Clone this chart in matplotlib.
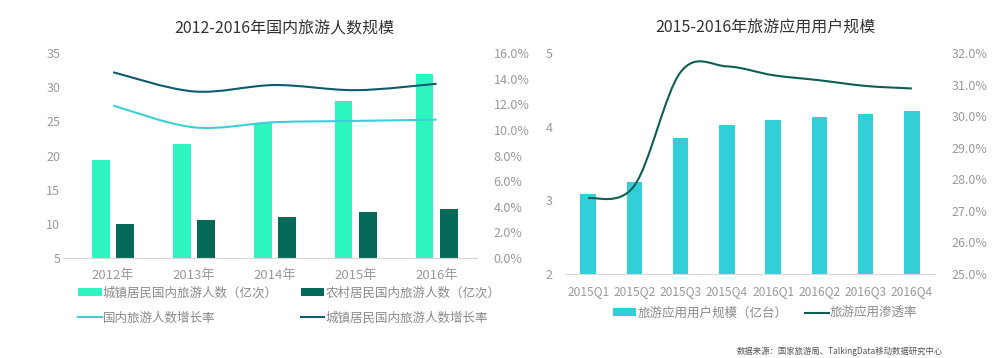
import matplotlib.pyplot as plt
import numpy as np
from matplotlib.path import Path
from matplotlib.patches import PathPatch
from matplotlib.ticker import FuncFormatter

plt.rcParams['font.family'] = ['Noto Sans CJK SC', 'DejaVu Sans']

# 左图数据
years = ["2012年", "2013年", "2014年", "2015年", "2016年"]
urban = [19.3, 21.7, 24.8, 28.0, 31.9]
rural = [10.0, 10.6, 11.0, 11.8, 12.2]
growth_all = [11.9, 10.2, 10.6, 10.7, 10.8]
growth_urban = [14.5, 13.0, 13.5, 13.1, 13.6]

# 右图数据
quarters = ["2015Q1", "2015Q2", "2015Q3", "2015Q4",
            "2016Q1", "2016Q2", "2016Q3", "2016Q4"]
users = [3.09, 3.25, 3.85, 4.03, 4.09, 4.13, 4.17, 4.21]
penetration = [27.4, 27.8, 31.4, 31.58, 31.3, 31.14, 30.96, 30.88]

c_urban = '#2ef5c0'
c_rural = '#05695a'
c_line_all = '#3ccfd8'
c_line_urban = '#0e5a6e'
c_users = '#33cfd9'
c_pen = '#0e5e55'
c_tick = '#9a9a9a'
c_text = '#333333'


def smooth_line(ax, xs, ys, color, lw=1.5):
    # 类似Excel平滑线的贝塞尔曲线
    pts = list(zip(xs, ys))
    n = len(pts)
    verts = [pts[0]]
    codes = [Path.MOVETO]
    for i in range(n - 1):
        p0 = np.array(pts[i - 1] if i > 0 else pts[i])
        p1 = np.array(pts[i])
        p2 = np.array(pts[i + 1])
        p3 = np.array(pts[i + 2] if i + 2 < n else pts[i + 1])
        c1 = p1 + (p2 - p0) / 6
        c2 = p2 - (p3 - p1) / 6
        verts += [tuple(c1), tuple(c2), tuple(p2)]
        codes += [Path.CURVE4] * 3
    ax.add_patch(PathPatch(Path(verts, codes), fill=False, edgecolor=color, lw=lw))


def style(ax):
    for s in ['top', 'left', 'right']:
        ax.spines[s].set_visible(False)
    ax.spines['bottom'].set_color('#d9d9d9')
    ax.tick_params(length=0, colors=c_tick, labelsize=9)


fig = plt.figure(figsize=(10, 3.58), dpi=100)

# ---- 左图 ----
ax1 = fig.add_axes([0.063, 0.2793, 0.414, 0.5726])
x = np.arange(len(years))
w = 0.22
b1 = ax1.bar(x - 0.15, urban, w, color=c_urban)
b2 = ax1.bar(x + 0.15, rural, w, color=c_rural)
ax1.set_ylim(5, 35)
ax1.set_yticks(range(5, 36, 5))
ax1.set_xlim(-0.62, 4.5)
ax1.set_xticks(x)
ax1.set_xticklabels(years)
style(ax1)
ax1.tick_params(axis='x', pad=8, labelsize=9.5)
ax1.tick_params(axis='y', pad=2)

ax1r = ax1.twinx()
ax1r.set_ylim(0, 16)
ax1r.set_yticks(range(0, 17, 2))
ax1r.yaxis.set_major_formatter(FuncFormatter(lambda v, p: f'{v:.1f}%'))
style(ax1r)
ax1r.spines['bottom'].set_visible(False)
ax1r.tick_params(axis='y', pad=12)
smooth_line(ax1r, x, growth_all, c_line_all)
smooth_line(ax1r, x, growth_urban, c_line_urban)
l1, = ax1r.plot([], [], color=c_line_all, lw=1.5)
l2, = ax1r.plot([], [], color=c_line_urban, lw=1.5)

fig.text(0.284, 0.92, "2012-2016年国内旅游人数规模", ha='center', va='center',
         fontsize=11.5, color=c_text)

leg1 = fig.legend([b1, l1, b2, l2],
                  ["城镇居民国内旅游人数（亿次）", "国内旅游人数增长率",
                   "农村居民国内旅游人数（亿次）", "城镇居民国内旅游人数增长率"],
                  ncol=2, loc='upper left', bbox_to_anchor=(0.078, 0.199),
                  frameon=False, borderaxespad=0, borderpad=0,
                  fontsize=9, handlelength=1.9, handleheight=0.6, handletextpad=0.1,
                  columnspacing=1.8, labelspacing=0.95)
for t in leg1.get_texts():
    t.set_color('#8a8a8a')

# ---- 右图 ----
ax2 = fig.add_axes([0.565, 0.2346, 0.37, 0.617])
q = np.arange(len(quarters))
b3 = ax2.bar(q, users, 0.33, color=c_users)
ax2.set_ylim(2, 5)
ax2.set_yticks([2, 3, 4, 5])
ax2.set_xlim(-0.5, 7.5)
ax2.set_xticks(q)
ax2.set_xticklabels(quarters)
style(ax2)
ax2.tick_params(axis='x', pad=8, labelsize=8.6)
ax2.tick_params(axis='y', pad=9)

ax2r = ax2.twinx()
ax2r.set_ylim(25, 32)
ax2r.set_yticks(range(25, 33))
ax2r.yaxis.set_major_formatter(FuncFormatter(lambda v, p: f'{v:.1f}%'))
style(ax2r)
ax2r.spines['bottom'].set_visible(False)
ax2r.tick_params(axis='y', pad=12)
smooth_line(ax2r, q, penetration, c_pen)
l3, = ax2r.plot([], [], color=c_pen, lw=1.5)

fig.text(0.765, 0.92, "2015-2016年旅游应用用户规模", ha='center', va='center',
         fontsize=11.5, color=c_text)

leg2 = fig.legend([b3, l3], ["旅游应用用户规模（亿台）", "旅游应用渗透率"],
                  ncol=2, loc='center', bbox_to_anchor=(0.765, 0.125), frameon=False,
                  fontsize=9, handlelength=1.9, handleheight=0.6, handletextpad=0.1,
                  columnspacing=1.4)
for t in leg2.get_texts():
    t.set_color('#8a8a8a')

fig.text(0.84, 0.02, "数据来源：国家旅游局、TalkingData移动数据研究中心",
         ha='center', va='center', fontsize=6, color='#555555')

fig.savefig("out.png", dpi=100)
